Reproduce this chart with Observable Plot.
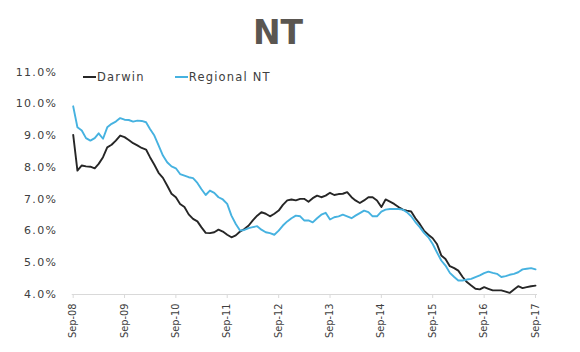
<!DOCTYPE html>
<html>
<head>
<meta charset="utf-8">
<script src="https://cdn.jsdelivr.net/npm/d3@7"></script>
<script src="https://cdn.jsdelivr.net/npm/@observablehq/plot@0.6"></script>
<style>
  body { margin: 0; background: #fff; }
  #wrap { position: relative; width: 580px; height: 352px; overflow: hidden; font-family: "DejaVu Sans", sans-serif; }
  #title { position: absolute; top: 16px; left: 0; width: 556px; text-align: center; font-size: 33px; line-height: 33px; font-weight: bold; color: #5a5651; }
  #legend { position: absolute; top: 68px; left: 83px; font-size: 11.5px; letter-spacing: 1.2px; color: #404040; white-space: nowrap; line-height: 16px; }
  .item { display: inline-block; vertical-align: middle; }
  .sw { display: inline-block; width: 13px; height: 2px; vertical-align: middle; margin-right: 1px; }
  svg g[aria-label="y-axis tick label"] { letter-spacing: 1.3px; }
</style>
</head>
<body>
<div id="wrap">
  <div id="chart"></div>
  <div id="title">NT</div>
  <div id="legend"></div>
</div>
<script>
const seriesNames = ["Darwin", "Regional NT"];
const seriesColors = ["#262626", "#46b2e0"];
const startMonth = "2008-09";
const yTicks = [4, 5, 6, 7, 8, 9, 10, 11];
const tickYears = [2008, 2009, 2010, 2011, 2012, 2013, 2014, 2015, 2016, 2017];

const darwin = [
  9.02, 7.90, 8.06, 8.03, 8.02, 7.97, 8.11, 8.32, 8.63, 8.71, 8.84, 9.00,
  8.95, 8.86, 8.76, 8.69, 8.61, 8.56, 8.32, 8.08, 7.83, 7.67, 7.43, 7.17,
  7.06, 6.85, 6.75, 6.52, 6.38, 6.30, 6.12, 5.94, 5.93, 5.96, 6.04, 5.98,
  5.88, 5.80, 5.86, 5.98, 6.06, 6.17, 6.33, 6.48, 6.59, 6.54, 6.46, 6.54,
  6.64, 6.82, 6.96, 6.99, 6.96, 7.01, 7.01, 6.92, 7.03, 7.11, 7.06, 7.11,
  7.20, 7.13, 7.16, 7.17, 7.22, 7.06, 6.96, 6.88, 6.96, 7.06, 7.06, 6.96,
  6.75, 6.99, 6.92, 6.85, 6.75, 6.67, 6.64, 6.61, 6.40, 6.22, 6.01, 5.88,
  5.77, 5.59, 5.23, 5.12, 4.89, 4.83, 4.75, 4.55, 4.39, 4.28, 4.18, 4.16,
  4.23, 4.18, 4.13, 4.13, 4.13, 4.09, 4.05, 4.16, 4.26, 4.20, 4.23, 4.26,
  4.28
];
const regional = [
  9.92, 9.26, 9.16, 8.92, 8.84, 8.92, 9.07, 8.90, 9.26, 9.37, 9.44, 9.55,
  9.50, 9.49, 9.44, 9.47, 9.46, 9.42, 9.21, 9.00, 8.69, 8.37, 8.16, 8.03,
  7.97, 7.79, 7.74, 7.69, 7.66, 7.51, 7.32, 7.13, 7.27, 7.20, 7.06, 6.99,
  6.85, 6.48, 6.22, 6.01, 6.03, 6.09, 6.12, 6.15, 6.04, 5.96, 5.93, 5.88,
  6.01, 6.17, 6.30, 6.40, 6.48, 6.46, 6.33, 6.33, 6.27, 6.40, 6.51, 6.57,
  6.36, 6.43, 6.46, 6.51, 6.46, 6.40, 6.48, 6.56, 6.64, 6.59, 6.46, 6.46,
  6.61, 6.67, 6.69, 6.69, 6.69, 6.67, 6.59, 6.46, 6.28, 6.12, 5.94, 5.80,
  5.59, 5.33, 5.07, 4.91, 4.68, 4.55, 4.44, 4.44, 4.47, 4.49, 4.55, 4.60,
  4.67, 4.72, 4.68, 4.65, 4.55, 4.58, 4.62, 4.65, 4.70, 4.79, 4.81, 4.83,
  4.79
];

const start = new Date(startMonth + "-01T00:00:00Z");
const monthDate = i => d3.utcMonth.offset(start, i);
const rows = [];
[darwin, regional].forEach((vals, s) => {
  vals.forEach((v, i) => rows.push({date: monthDate(i), value: v, series: seriesNames[s]}));
});
const tickDates = tickYears.map(y => new Date(Date.UTC(y, 8, 1)));
const fmtX = d3.utcFormat("%b-%y");

const chart = Plot.plot({
  width: 580,
  height: 352,
  marginLeft: 72.7,
  marginRight: 45,
  marginTop: 71.5,
  marginBottom: 58,
  style: {fontFamily: "DejaVu Sans, sans-serif", background: "#fff"},
  x: {type: "utc", domain: [tickDates[0], tickDates[tickDates.length - 1]]},
  y: {domain: [4, 11]},
  color: {domain: seriesNames, range: seriesColors},
  marks: [
    Plot.ruleY([4], {stroke: "#d9d9d9", strokeWidth: 1.2, insetLeft: -1, insetRight: -2}),
    Plot.axisX({ticks: tickDates, tickSize: 4, tickFormat: () => "", color: "#d9d9d9", label: null}),
    Plot.axisX({ticks: tickDates, tickSize: 0, tickPadding: 9, tickRotate: -90, tickFormat: fmtX,
      fontSize: 9.8, color: "#404040", label: null}),
    Plot.axisY({ticks: yTicks, tickSize: 0, tickPadding: 16, tickFormat: d => d.toFixed(1) + "%",
      fontSize: 11, color: "#404040", label: null}),
    Plot.line(rows, {x: "date", y: "value", stroke: "series", strokeWidth: 1.9, curve: "linear"})
  ]
});
document.getElementById("chart").appendChild(chart);

const legend = document.getElementById("legend");
seriesNames.forEach((name, i) => {
  const item = document.createElement("span");
  item.className = "item";
  if (i > 0) item.style.marginLeft = "30px";
  const sw = document.createElement("span");
  sw.className = "sw";
  sw.style.background = seriesColors[i];
  item.appendChild(sw);
  item.appendChild(document.createTextNode(name));
  legend.appendChild(item);
});
</script>
</body>
</html>
